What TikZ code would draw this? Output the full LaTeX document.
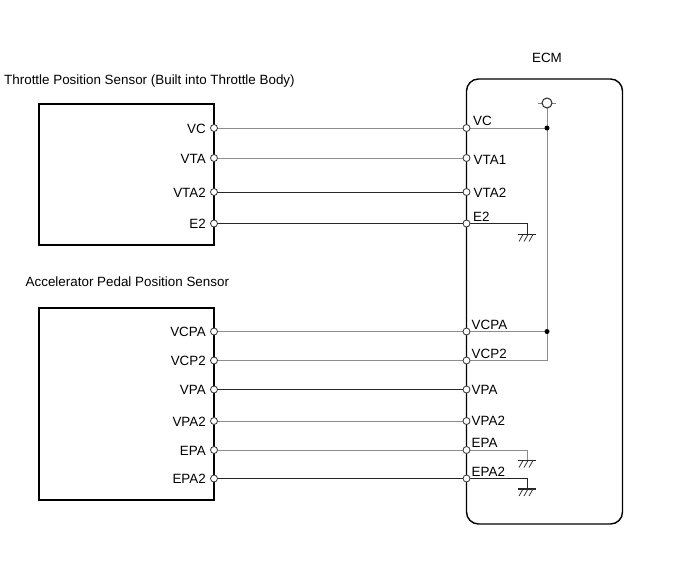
\documentclass[tikz,border=0pt]{standalone}
\usepackage{fontspec}
\setmainfont{Liberation Sans}
\tikzset{
  unit/.style={draw=black,line width=1.4pt,fill=none,inner sep=0pt,outer sep=0pt},
  pin/.style={circle,draw=black!80,fill=white,line width=.8pt,inner sep=0pt,minimum size=7pt},
  dotj/.style={circle,fill=black,inner sep=0pt,minimum size=5pt},
  wireg/.style={draw=black!45,line width=1pt},
  wired/.style={draw=black!85,line width=.9pt},
  lbl/.style={font=\fontsize{13.4}{15}\selectfont,inner sep=0pt,text=black},
  gndbar/.style={draw=black!85,line width=1.1pt},
  hatch/.style={draw=black!80,line width=.8pt}
}
\newcommand{\gndsym}[1]{%
  \draw[gndbar] ([xshift=-9pt]#1) -- ([xshift=9pt]#1);
  \draw[hatch] ([xshift=-4pt]#1) -- ([xshift=-8pt,yshift=-7pt]#1);
  \draw[hatch] ([xshift=1pt]#1) -- ([xshift=-3pt,yshift=-7pt]#1);
  \draw[hatch] ([xshift=6pt]#1) -- ([xshift=2pt,yshift=-7pt]#1);
}
\begin{document}
\begin{tikzpicture}[x=1pt,y=-1pt]
\useasboundingbox (0,0) rectangle (690,562);
% units
\node[unit,rectangle,minimum width=175pt,minimum height=141pt,anchor=north west] (tps) at (39,104) {};
\node[unit,rectangle,minimum width=175pt,minimum height=192pt,anchor=north west] (apps) at (39,308) {};
\node[unit,rectangle,rounded corners=12pt,minimum width=156pt,minimum height=445pt,anchor=north west] (ecm) at (466.5,79) {};
% titles
\node[lbl,anchor=base] (tecm) at (547,62) {ECM};
\node[lbl,anchor=base west] (ttps) at (4,84) {Throttle Position Sensor (Built into Throttle Body)};
\node[lbl,anchor=base west] (tapps) at (25.5,286) {Accelerator Pedal Position Sensor};
% coordinates
\coordinate (lVC) at (214,128);   \coordinate (rVC) at (466.5,128);
\coordinate (lVTA) at (214,158);  \coordinate (rVTA) at (466.5,158);
\coordinate (lVTB) at (214,192);  \coordinate (rVTB) at (466.5,192);
\coordinate (lEB) at (214,223.5); \coordinate (rEB) at (466.5,223.5);
\coordinate (lVCPA) at (214,331.5); \coordinate (rVCPA) at (466.5,331.5);
\coordinate (lVCPB) at (214,360.5); \coordinate (rVCPB) at (466.5,360.5);
\coordinate (lVPA) at (214,389.5);  \coordinate (rVPA) at (466.5,389.5);
\coordinate (lVPB) at (214,421);    \coordinate (rVPB) at (466.5,421);
\coordinate (lEPA) at (214,450);    \coordinate (rEPA) at (466.5,450);
\coordinate (lEPB) at (214,478.5);  \coordinate (rEPB) at (466.5,478.5);
\coordinate (gA) at (527,234.5);
\coordinate (gB) at (527,460.5);
\coordinate (gC) at (527,489);
\coordinate (jA) at (547,128);
\coordinate (jB) at (547,331.5);
\coordinate (supply) at (547,103);
\coordinate (cornerV) at (547,360.5);
% wires
\draw[wireg] (lVC) -- (rVC);
\draw[wireg] (lVTA) -- (rVTA);
\draw[wired] (lVTB) -- (rVTB);
\draw[wired] (lEB) -- (rEB);
\draw[wireg] (lVCPA) -- (rVCPA);
\draw[wireg] (lVCPB) -- (rVCPB);
\draw[wired] (lVPA) -- (rVPA);
\draw[wireg] (lVPB) -- (rVPB);
\draw[wireg] (lEPA) -- (rEPA);
\draw[wired] (lEPB) -- (rEPB);
% ECM internal wiring
\draw[wireg] (rVC) -- (jA);
\draw[wireg] (rVCPA) -- (jB);
\draw[wireg] (rVCPB) -- (cornerV) -- (supply);
\draw[wired] (rEB) -| (gA);
\draw[wireg] (rEPA) -| (gB);
\draw[wired] (rEPB) -| (gC);
\gndsym{gA}
\gndsym{gB}
\gndsym{gC}
% supply symbol
\draw[draw=black!50,line width=.8pt] ([xshift=-9pt]supply) -- ([xshift=9pt]supply);
\node[circle,draw=black!85,fill=white,line width=1pt,inner sep=0pt,minimum size=10pt] (vcc) at (supply) {};
\node[dotj] (dA) at (jA) {};
\node[dotj] (dB) at (jB) {};
% pins
\foreach \p in {lVC,rVC,lVTA,rVTA,lVTB,rVTB,lEB,rEB,lVCPA,rVCPA,lVCPB,rVCPB,lVPA,rVPA,lVPB,rVPB,lEPA,rEPA,lEPB,rEPB}
  \node[pin] at (\p) {};
% left labels
\node[lbl,anchor=base east] at (206,133) {VC};
\node[lbl,anchor=base east] at (206,163) {VTA};
\node[lbl,anchor=base east] at (206,197) {VTA2};
\node[lbl,anchor=base east] at (206,228.5) {E2};
\node[lbl,anchor=base east] at (206,336.5) {VCPA};
\node[lbl,anchor=base east] at (206,365.5) {VCP2};
\node[lbl,anchor=base east] at (206,394.5) {VPA};
\node[lbl,anchor=base east] at (206,426) {VPA2};
\node[lbl,anchor=base east] at (206,455) {EPA};
\node[lbl,anchor=base east] at (206,483.5) {EPA2};
% right labels
\node[lbl,anchor=base west] at (473,125) {VC};
\node[lbl,anchor=base west] at (473.5,164) {VTA1};
\node[lbl,anchor=base west] at (473.5,197) {VTA2};
\node[lbl,anchor=base west] at (473,221) {E2};
\node[lbl,anchor=base west] at (471.5,329) {VCPA};
\node[lbl,anchor=base west] at (471.5,358) {VCP2};
\node[lbl,anchor=base west] at (471.5,394) {VPA};
\node[lbl,anchor=base west] at (471.5,425.5) {VPA2};
\node[lbl,anchor=base west] at (471.5,447.5) {EPA};
\node[lbl,anchor=base west] at (471.5,476) {EPA2};
\end{tikzpicture}
\end{document}
